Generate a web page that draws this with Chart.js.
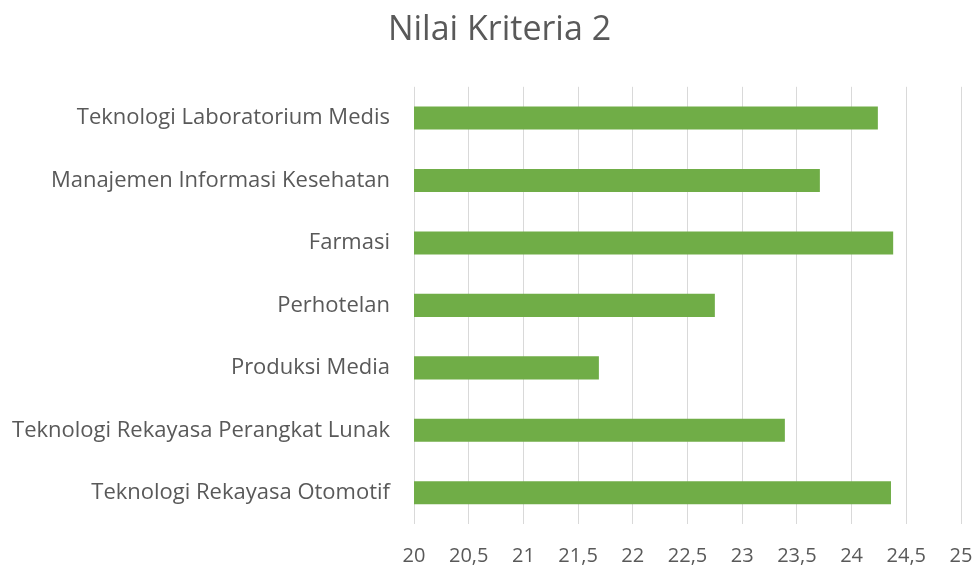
<!DOCTYPE html>
<html>
<head>
<meta charset="utf-8">
<script src="https://cdn.jsdelivr.net/npm/chart.js@4/dist/chart.umd.min.js"></script>
<style>
  html, body { margin: 0; padding: 0; background: #fff; }
  #wrap { width: 976px; height: 568px; }
</style>
</head>
<body>
<div id="wrap"><canvas id="chart"></canvas></div>
<script>
'use strict';

const jurusan = [
  'Teknologi Laboratorium Medis',
  'Manajemen Informasi Kesehatan',
  'Farmasi',
  'Perhotelan',
  'Produksi Media',
  'Teknologi Rekayasa Perangkat Lunak',
  'Teknologi Rekayasa Otomotif',
];
const nilaiKriteria2 = [24.24, 23.71, 24.38, 22.75, 21.69, 23.39, 24.36];
const sumbuMin = 20;
const sumbuMax = 25;
const langkah = 0.5;

const abu = '#595959';
const font = 'Open Sans, DejaVu Sans, sans-serif';

// geser judul sedikit ke kanan seperti di Excel
const geserJudul = {
  id: 'geserJudul',
  afterLayout(chart) {
    if (chart.titleBlock) {
      chart.titleBlock.left += 13;
      chart.titleBlock.right += 13;
    }
  },
};

new Chart(document.getElementById('chart').getContext('2d'), {
  type: 'bar',
  data: {
    labels: jurusan,
    datasets: [{
      data: nilaiKriteria2,
      backgroundColor: '#70AD47',
      borderWidth: 0,
      barPercentage: 1,
      categoryPercentage: 0.37,
    }],
  },
  options: {
    indexAxis: 'y',
    responsive: true,
    maintainAspectRatio: false,
    animation: false,
    layout: { padding: { top: 0, right: 3, bottom: 0, left: 0 } },
    plugins: {
      legend: { display: false },
      tooltip: { enabled: false },
      title: {
        display: true,
        text: 'Nilai Kriteria 2',
        color: abu,
        font: { family: font, size: 34, weight: 'normal' },
        padding: { top: 10, bottom: 36 },
      },
    },
    scales: {
      x: {
        min: sumbuMin,
        max: sumbuMax,
        ticks: {
          stepSize: langkah,
          color: abu,
          font: { family: font, size: 20 },
          padding: 20,
          callback: v => String(v).replace('.', ','),
        },
        grid: { color: '#d9d9d9', lineWidth: 1, drawTicks: false },
        border: { display: false },
        afterFit: axis => {
          axis.height = 44;
          axis.paddingLeft = 0;
          axis.paddingRight = 15;
        },
      },
      y: {
        ticks: {
          color: abu,
          font: { family: font, size: 22 },
          padding: 24,
        },
        grid: { display: false, drawTicks: false },
        border: { display: false },
        afterFit: axis => { axis.width = 414; },
      },
    },
  },
  plugins: [geserJudul],
});
</script>
</body>
</html>
